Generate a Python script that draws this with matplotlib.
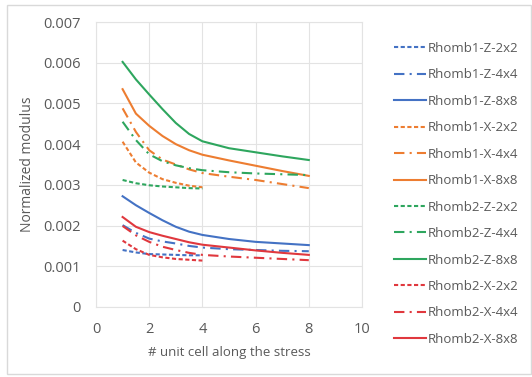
import matplotlib
matplotlib.use("Agg")
import matplotlib.pyplot as plt
from matplotlib.patches import Rectangle

x_long = [1, 1.5, 2, 2.5, 3, 3.5, 4, 5, 6, 7, 8]
x_short = [1, 1.5, 2, 2.5, 3, 3.5, 4]

r1_z_2x2 = [1.40, 1.34, 1.30, 1.29, 1.28, 1.27, 1.27]
r1_z_4x4 = [2.01, 1.82, 1.68, 1.61, 1.56, 1.50, 1.46, 1.42, 1.40, 1.38, 1.37]
r1_z_8x8 = [2.72, 2.50, 2.31, 2.13, 1.97, 1.85, 1.77, 1.67, 1.60, 1.56, 1.52]
r1_x_2x2 = [4.06, 3.55, 3.30, 3.14, 3.05, 2.98, 2.94]
r1_x_4x4 = [4.88, 4.30, 3.85, 3.62, 3.50, 3.38, 3.29, 3.20, 3.12, 3.02, 2.92]
r1_x_8x8 = [5.35, 4.75, 4.45, 4.20, 4.00, 3.85, 3.74, 3.60, 3.47, 3.34, 3.22]
r2_z_2x2 = [3.12, 3.04, 2.99, 2.96, 2.94, 2.92, 2.91]
r2_z_4x4 = [4.55, 4.10, 3.75, 3.58, 3.48, 3.41, 3.36, 3.31, 3.28, 3.26, 3.24]
r2_z_8x8 = [6.02, 5.59, 5.22, 4.86, 4.52, 4.25, 4.07, 3.90, 3.80, 3.70, 3.61]
r2_x_2x2 = [1.63, 1.42, 1.28, 1.22, 1.18, 1.16, 1.14]
r2_x_4x4 = [1.99, 1.76, 1.60, 1.48, 1.40, 1.33, 1.28, 1.24, 1.21, 1.18, 1.15]
r2_x_8x8 = [2.21, 1.97, 1.84, 1.75, 1.67, 1.59, 1.53, 1.46, 1.39, 1.33, 1.28]

labels = ["Rhomb1-Z-2x2", "Rhomb1-Z-4x4", "Rhomb1-Z-8x8",
          "Rhomb1-X-2x2", "Rhomb1-X-4x4", "Rhomb1-X-8x8",
          "Rhomb2-Z-2x2", "Rhomb2-Z-4x4", "Rhomb2-Z-8x8",
          "Rhomb2-X-2x2", "Rhomb2-X-4x4", "Rhomb2-X-8x8"]
series = [r1_z_2x2, r1_z_4x4, r1_z_8x8, r1_x_2x2, r1_x_4x4, r1_x_8x8,
          r2_z_2x2, r2_z_4x4, r2_z_8x8, r2_x_2x2, r2_x_4x4, r2_x_8x8]

colors = ["#4472C4", "#ED7D31", "#2EA65E", "#E0383E"]
styles = [(0, (2, 1.2)), (0, (5, 2.5, 1, 2.5)), "-"]

plt.rcParams['font.family'] = ['Open Sans', 'DejaVu Sans']
fig = plt.figure(figsize=(5.32, 3.77), dpi=100)
fig.patches.append(Rectangle((7/532, 3/377), 524/532, 369/377, transform=fig.transFigure,
                             fill=False, edgecolor="#D9D9D9", linewidth=1.0))
ax = fig.add_axes([96/532, 1 - 307/377, 266/532, 285/377])

handles = []
for i, (lab, ys) in enumerate(zip(labels, series)):
    c = colors[i // 3]
    ls = styles[i % 3]
    xs = x_short if len(ys) == len(x_short) else x_long
    h, = ax.plot(xs, [v * 1e-3 for v in ys], color=c, linestyle=ls, linewidth=1.5,
                 label=lab, solid_joinstyle="round")
    handles.append(h)

ax.set_xlim(0, 10)
ax.set_ylim(0, 0.007)
ax.set_xticks([0, 2, 4, 6, 8, 10])
ax.set_yticks([0, 0.001, 0.002, 0.003, 0.004, 0.005, 0.006, 0.007])
ax.set_yticklabels(["0", "0.001", "0.002", "0.003", "0.004", "0.005", "0.006", "0.007"])
ax.grid(True, color="#E3E3E3", linewidth=0.8)
ax.set_axisbelow(True)
for s in ax.spines.values():
    s.set_color("#E3E3E3")
    s.set_linewidth(0.8)
ax.tick_params(length=0, colors="#595959", labelsize=10.5)
ax.tick_params(axis="y", pad=11)
ax.tick_params(axis="x", pad=11)
ax.set_xlabel("# unit cell along the stress", color="#595959", fontsize=9.5, labelpad=6)
ax.set_ylabel("Normalized modulus", color="#595959", fontsize=10, labelpad=6)

leg = fig.legend(handles=handles, labels=labels, loc="upper left",
                 bbox_to_anchor=(382/532, 1 - 30/377), frameon=False,
                 fontsize=9.5, labelcolor="#595959", handlelength=2.4,
                 handletextpad=0.2, labelspacing=1.02)

fig.savefig("out.png", dpi=100)
